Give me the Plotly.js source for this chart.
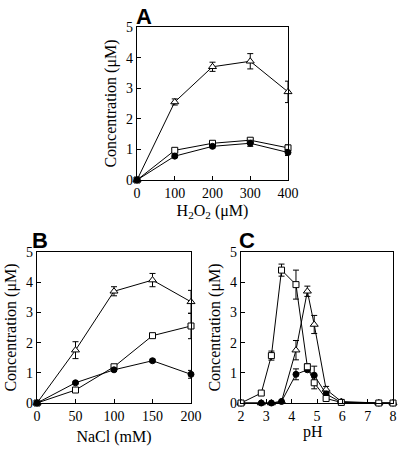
<!DOCTYPE html>
<html>
<head>
<meta charset="utf-8">
<script src="https://cdn.plot.ly/plotly-3.0.1.min.js"></script>
<style>body{margin:0;padding:0;background:#fff}#chart{width:400px;height:450px}</style>
</head>
<body>
<div id="chart"></div>
<script>
// Panel A: H2O2
var h2o2 = [0, 100, 200, 300, 400];
var aTri = [0, 2.55, 3.7, 3.88, 2.88];
var aTriErr = [0, 0.1, 0.15, 0.25, 0.35];
var aSq = [0, 0.97, 1.2, 1.3, 1.05];
var aSqErr = [0, 0.05, 0.05, 0.05, 0.1];
var aCirc = [0, 0.78, 1.1, 1.2, 0.9];
var aCircErr = [0, 0.05, 0.05, 0.1, 0.1];

// Panel B: NaCl
var nacl = [0, 50, 100, 150, 200];
var bTri = [0, 1.75, 3.7, 4.07, 3.35];
var bTriErr = [0, 0.28, 0.15, 0.22, 0.38];
var bSq = [0, 0.43, 1.2, 2.23, 2.55];
var bSqErr = [0, 0.03, 0.05, 0.05, 0.42];
var bCirc = [0, 0.67, 1.1, 1.4, 0.95];
var bCircErr = [0, 0.03, 0.05, 0.05, 0.13];

// Panel C: pH
var ph = [2.0, 2.8, 3.2, 3.6, 4.17, 4.62, 4.89, 5.36, 5.96, 7.44, 8.0];
var cSq = [0, 0.33, 1.57, 4.4, 3.92, 1.2, 0.67, 0.15, 0.02, 0, 0];
var cSqErr = [0, 0.03, 0.15, 0.2, 0.48, 0.1, 0.2, 0.05, 0, 0, 0];
var cTri = [0, 0, 0, 0.05, 1.75, 3.7, 2.6, 0.45, 0.05, 0, 0];
var cTriErr = [0, 0, 0, 0, 0.32, 0.17, 0.3, 0.1, 0, 0, 0];
var cCirc = [0, 0, 0, 0.05, 0.95, 1.1, 0.92, 0.3, 0.02, 0, 0];
var cCircErr = [0, 0, 0, 0, 0.18, 0.05, 0.3, 0.05, 0, 0, 0];

function tr(x, y, err, sym, xa, ya) {
  var filled = sym === 'circle';
  return {
    x: x, y: y, xaxis: xa, yaxis: ya, type: 'scatter', mode: 'lines+markers',
    line: {color: '#000', width: 1},
    marker: {symbol: sym, size: sym === 'triangle-up' ? 7 : 6,
             color: filled ? '#000' : '#fff', line: {color: '#000', width: 1}},
    error_y: {type: 'data', array: err, visible: true, color: '#000', thickness: 1, width: 3},
    cliponaxis: false, showlegend: false, hoverinfo: 'skip'
  };
}

var data = [
  tr(h2o2, aTri, aTriErr, 'triangle-up', 'x', 'y'),
  tr(h2o2, aSq, aSqErr, 'square', 'x', 'y'),
  tr(h2o2, aCirc, aCircErr, 'circle', 'x', 'y'),
  tr(nacl, bTri, bTriErr, 'triangle-up', 'x2', 'y2'),
  tr(nacl, bSq, bSqErr, 'square', 'x2', 'y2'),
  tr(nacl, bCirc, bCircErr, 'circle', 'x2', 'y2'),
  tr(ph, cTri, cTriErr, 'triangle-up', 'x3', 'y3'),
  tr(ph, cCirc, cCircErr, 'circle', 'x3', 'y3'),
  tr(ph, cSq, cSqErr, 'square', 'x3', 'y3')
];

var serif = "'Liberation Serif', 'Times New Roman', Times, serif";
var tickFont = {family: serif, size: 14, color: '#000'};
var titleFont = {family: serif, size: 16, color: '#000'};
var letterFont = {family: "'Liberation Sans', Arial, sans-serif", size: 22, color: '#000'};

function ax(extra) {
  var base = {
    showline: true, mirror: true, linecolor: '#000', linewidth: 1.2,
    ticks: 'inside', ticklen: 4, tickcolor: '#000', tickwidth: 1,
    showgrid: false, zeroline: false, tickfont: tickFont, fixedrange: true
  };
  for (var k in extra) base[k] = extra[k];
  return base;
}

var yTitle = 'Concentration (μM)';

var layout = {
  width: 400, height: 450,
  margin: {l: 0, r: 0, t: 0, b: 0},
  paper_bgcolor: '#fff', plot_bgcolor: '#fff',
  font: {family: serif, color: '#000'},
  xaxis: ax({domain: [0.3425, 0.72], range: [0, 400], tickvals: [0, 100, 200, 300, 400], anchor: 'y',
             title: {text: 'H<sub>2</sub>O<sub>2</sub> (μM)', font: titleFont, standoff: 4}}),
  yaxis: ax({domain: [0.6, 0.94], range: [0, 5], tickvals: [0, 1, 2, 3, 4, 5], anchor: 'x',
             title: {text: yTitle, font: titleFont, standoff: 5}}),
  xaxis2: ax({domain: [0.0925, 0.4775], range: [0, 200], tickvals: [0, 50, 100, 150, 200], anchor: 'y2',
              title: {text: 'NaCl (mM)', font: titleFont, standoff: 7}}),
  yaxis2: ax({domain: [0.1044, 0.44], range: [0, 5], tickvals: [0, 1, 2, 3, 4, 5], anchor: 'x2',
              title: {text: yTitle, font: titleFont, standoff: 5}}),
  xaxis3: ax({domain: [0.6025, 0.9825], range: [2, 8], tickvals: [2, 3, 4, 5, 6, 7, 8], anchor: 'y3'}),
  yaxis3: ax({domain: [0.1044, 0.44], range: [0, 5], tickvals: [0, 1, 2, 3, 4, 5], anchor: 'x3',
              title: {text: yTitle, font: titleFont, standoff: 5}}),
  annotations: [
    {text: 'pH', x: 313/400, y: 1 - 432/450, xref: 'paper', yref: 'paper', xanchor: 'center', yanchor: 'middle',
     showarrow: false, font: titleFont},
    {text: '<b>A</b>', x: 134/400, y: 1 - 2/450, xref: 'paper', yref: 'paper', xanchor: 'left', yanchor: 'top',
     showarrow: false, font: letterFont},
    {text: '<b>B</b>', x: 30/400, y: 1 - 226/450, xref: 'paper', yref: 'paper', xanchor: 'left', yanchor: 'top',
     showarrow: false, font: letterFont},
    {text: '<b>C</b>', x: 237/400, y: 1 - 226/450, xref: 'paper', yref: 'paper', xanchor: 'left', yanchor: 'top',
     showarrow: false, font: letterFont}
  ]
};

Plotly.newPlot('chart', data, layout, {displayModeBar: false, staticPlot: true});
</script>
</body>
</html>
